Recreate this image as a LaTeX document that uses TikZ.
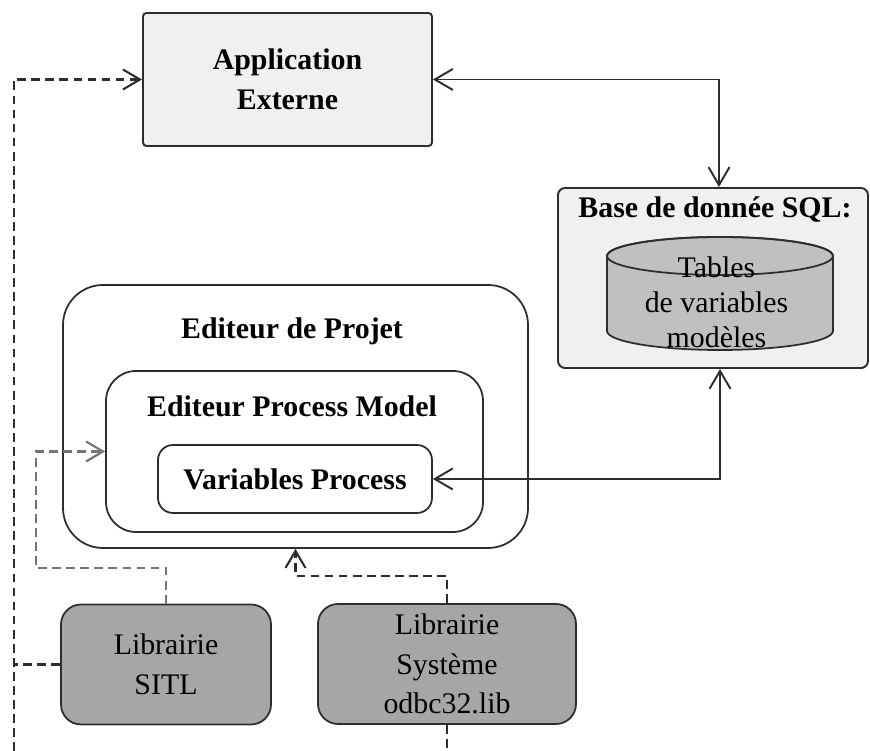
\documentclass[tikz,border=0pt]{standalone}
\usepackage{fontspec}
\setmainfont{Liberation Serif}
\usepackage{tikz}
\usetikzlibrary{arrows.meta, positioning, calc}
\definecolor{myline}{RGB}{45,45,45}
\definecolor{hdrlight}{RGB}{240,240,240}
\definecolor{libgray}{RGB}{166,166,166}
\definecolor{cylgray}{RGB}{192,192,192}
\definecolor{dashgray}{RGB}{115,115,115}
\newcommand{\diafont}{\fontsize{17}{22.5}\selectfont}
\tikzset{
  appbox/.style={rectangle, draw=myline, fill=hdrlight,
    minimum width=5.78cm, minimum height=2.66cm, align=center,
    font=\diafont\bfseries, rounded corners=2pt, line width=1.1pt},
  dbbox/.style={rectangle, draw=myline, fill=hdrlight,
    minimum width=6.2cm, minimum height=3.6cm,
    rounded corners=4pt, line width=1.1pt},
  projbox/.style={rectangle, draw=myline,
    minimum width=9.3cm, minimum height=5.26cm,
    rounded corners=0.8cm, line width=1pt},
  modelbox/.style={rectangle, draw=myline,
    minimum width=7.54cm, minimum height=3.22cm,
    rounded corners=0.6cm, line width=1pt},
  varbox/.style={rectangle, draw=myline, fill=white,
    minimum width=5.48cm, minimum height=1.36cm, align=center,
    font=\diafont\bfseries, rounded corners=0.3cm, line width=1pt},
  libbox/.style={rectangle, draw=myline, fill=libgray, align=center,
    minimum height=2.4cm, font=\diafont, rounded corners=0.4cm, line width=1pt},
  title/.style={font=\diafont\bfseries, inner sep=0pt},
  arrow/.style={{Straight Barb[length=0.36cm, width=0.42cm]}-{Straight Barb[length=0.36cm, width=0.42cm]},
    line width=1.1pt, color=myline},
  dasharrow/.style={-{Straight Barb[length=0.34cm, width=0.4cm]},
    dash pattern=on 5pt off 3pt, line width=1.2pt, color=myline},
  dashline/.style={dash pattern=on 5pt off 3pt, line width=1.2pt, color=myline}
}

\begin{document}
\begin{tikzpicture}
  \useasboundingbox (0,0) rectangle (17.4,15.02);

  % top
  \node[appbox] (app) at (5.75,13.43) {Application\\Externe};
  \node[dbbox] (sql) at (14.26,9.46) {};
  \node[title] (sqltitle) at (14.3,10.82) {Base de donnée SQL:};

  % cylinder
  \draw[fill=cylgray, draw=myline, line width=1pt]
    (12.14,9.9) -- (12.14,8.4)
    arc[start angle=180, end angle=360, x radius=2.26cm, y radius=0.38cm]
    -- (16.66,9.9)
    arc[start angle=0, end angle=180, x radius=2.26cm, y radius=0.38cm] -- cycle;
  \draw[draw=myline, line width=1pt] (14.4,9.9) ellipse[x radius=2.26cm, y radius=0.38cm];
  \node[align=center, font=\fontsize{17}{19.9}\selectfont] (tables) at (14.33,8.98)
    {Tables\\de variables\\modèles};

  % editors
  \node[projbox] (projet) at (5.91,6.69) {};
  \node[title] (projtitle) at (5.84,8.4) {Editeur de Projet};
  \node[modelbox] (model) at (5.89,5.99) {};
  \node[title] (modeltitle) at (5.84,6.9) {Editeur Process Model};
  \node[varbox] (varproc) at (5.9,5.44) {Variables Process};

  % libraries
  \node[libbox, minimum width=4.2cm] (sitl) at (3.32,1.73) {Librairie\\SITL};
  \node[libbox, minimum width=5.16cm] (odbc) at (8.94,1.74) {Librairie\\Système\\odbc32.lib};

  \coordinate (bl) at (0.28,0);

  \draw[arrow] (app.east) -| ([xshift=0.12cm]sql.north);
  \draw[arrow] (varproc.east) -| ([xshift=0.14cm]sql.south);

  \draw[dasharrow] (bl) |- (app.west);
  \draw[dashline] (sitl.west) -- (sitl.west -| bl);
  \draw[dasharrow, color=dashgray] (sitl.north) |- (0.72,3.66) |- (model.west);
  \draw[dasharrow] (odbc.north) -- ++(0,0.54) -| (projet.south);
  \draw[dashline] (odbc.south) -- (odbc.south |- bl);
\end{tikzpicture}
\end{document}
